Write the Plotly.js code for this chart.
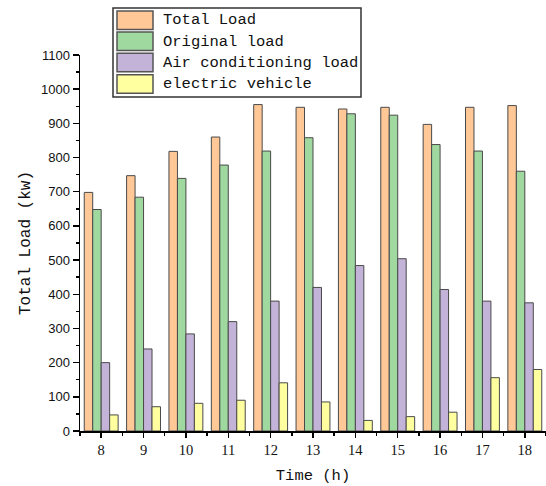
<!DOCTYPE html>
<html>
<head>
<meta charset="utf-8">
<script src="https://cdn.plot.ly/plotly-3.0.1.min.js"></script>
<style>html,body{margin:0;padding:0;background:#fff;}#chart{width:546px;height:486px;}</style>
</head>
<body>
<div id="chart"></div>
<script>
const hours = [8, 9, 10, 11, 12, 13, 14, 15, 16, 17, 18];
const seriesNames = ["Total Load", "Original load", "Air conditioning load", "electric vehicle"];
const totalLoad = [698, 747, 818, 860, 955, 947, 942, 947, 897, 947, 952];
const originalLoad = [648, 684, 739, 778, 819, 858, 928, 924, 838, 819, 760];
const acLoad = [200, 240, 284, 320, 380, 420, 484, 504, 414, 380, 375];
const evLoad = [47, 71, 81, 90, 141, 85, 31, 42, 55, 156, 180];
const colors = ["#FFC896", "#A0D9A0", "#C4B3D8", "#FFFFA0"];

const allSeries = [totalLoad, originalLoad, acLoad, evLoad];
const traces = allSeries.map((vals, i) => ({
  type: "bar", x: hours, y: vals, name: seriesNames[i],
  marker: {color: colors[i], line: {color: "#4a4a4a", width: 1}},
  showlegend: false, hoverinfo: "x+y+name"
}));

const L = 80, R = 546, T = 55, B = 431;
const px = v => (v - L) / (R - L);
const py = v => (B - v) / (B - T);
const monoFont = "Liberation Mono, DejaVu Sans Mono, monospace";

const shapes = [{
  type: "rect", xref: "paper", yref: "paper",
  x0: px(113), x1: px(361), y0: py(97), y1: py(8),
  line: {color: "#333", width: 1.5}, fillcolor: "#fff", layer: "above"
}];
const annotations = [];
const rowTop = [11, 32, 53.3, 74.7];
seriesNames.forEach((n, i) => {
  shapes.push({
    type: "rect", xref: "paper", yref: "paper",
    x0: px(117), x1: px(153), y0: py(rowTop[i] + 18.5), y1: py(rowTop[i]),
    line: {color: "#555", width: 1.5}, fillcolor: colors[i], layer: "above"
  });
  annotations.push({
    xref: "paper", yref: "paper", x: px(161), y: py(rowTop[i] + 9.5),
    xanchor: "left", yanchor: "middle", showarrow: false, text: n,
    font: {family: monoFont, size: 15.5, color: "#111"}
  });
});

const layout = {
  width: 546, height: 486,
  margin: {l: L, r: 546 - R, t: T, b: 486 - B, pad: 0},
  paper_bgcolor: "#fff", plot_bgcolor: "#fff",
  barmode: "group", bargap: 0.2, bargroupgap: 0,
  showlegend: false,
  xaxis: {
    range: [7.5, 18.5], tickvals: hours, ticktext: hours.map(String),
    showgrid: false, zeroline: false, showline: true, linecolor: "#000", linewidth: 1.5,
    ticks: "outside", ticklen: 5, tickwidth: 1.5, tickcolor: "#000",
    minor: {tick0: 7.5, dtick: 1, ticks: "outside", ticklen: 3, tickwidth: 1.5, tickcolor: "#000", showgrid: false},
    tickfont: {family: "Liberation Serif, serif", size: 14.5, color: "#111"},
    title: {text: "Time (h)", font: {family: monoFont, size: 15.5, color: "#111"}, standoff: 12},
    fixedrange: true
  },
  yaxis: {
    range: [0, 1100], dtick: 100, tick0: 0,
    showgrid: false, zeroline: false, showline: true, linecolor: "#000", linewidth: 1.5,
    ticks: "outside", ticklen: 6, tickwidth: 1.5, tickcolor: "#000",
    minor: {tick0: 0, dtick: 50, ticks: "outside", ticklen: 3, tickwidth: 1.5, tickcolor: "#000", showgrid: false},
    tickfont: {family: "Liberation Sans, Arial, sans-serif", size: 13, color: "#111"},
    title: {text: "Total Load (kw)", font: {family: monoFont, size: 16, color: "#111"}, standoff: 6},
    fixedrange: true
  },
  shapes: shapes,
  annotations: annotations
};

Plotly.newPlot("chart", traces, layout, {displayModeBar: false, staticPlot: true});
</script>
</body>
</html>
